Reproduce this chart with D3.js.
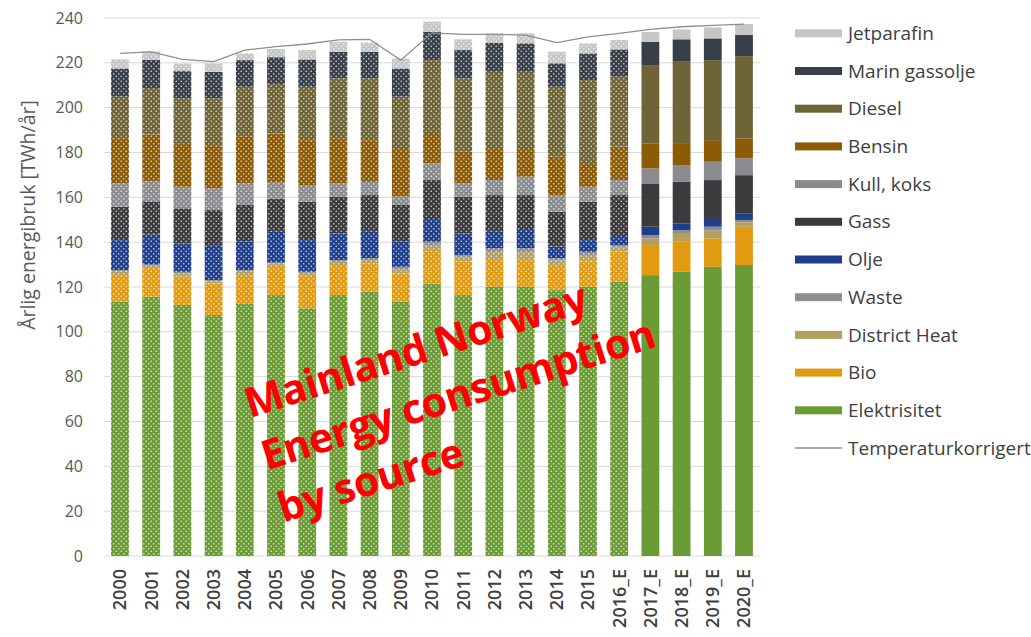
<!DOCTYPE html>
<html>
<head>
<meta charset="utf-8">
<script src="https://cdn.jsdelivr.net/npm/d3@7/dist/d3.min.js"></script>
<style>
  html, body { margin: 0; padding: 0; background: #fff; }
  svg { display: block; }
</style>
</head>
<body>
<svg id="chart" width="1031" height="637"></svg>
<script>
// Years on the category axis (estimates marked with _E)
const years = ["2000","2001","2002","2003","2004","2005","2006","2007","2008","2009",
  "2010","2011","2012","2013","2014","2015","2016_E","2017_E","2018_E","2019_E","2020_E"];

// Annual energy use per source, TWh/år
const elektrisitet = [113.4,115.7,112.0,107.5,112.7,116.4,110.5,116.4,117.9,113.4,121.6,116.4,120.1,120.1,118.6,120.1,122.3,125.3,126.8,129.0,129.8];
const bio          = [11.9,12.8,12.6,14.1,12.6,13.0,14.8,13.4,12.7,12.7,14.1,14.9,11.9,11.9,11.2,11.2,13.4,13.4,13.4,12.7,17.1];
const districtHeat = [1.5,1.0,1.4,1.0,1.5,1.0,1.0,1.4,1.4,1.9,3.0,2.0,3.5,3.5,2.0,3.0,2.0,3.0,3.5,3.5,2.0];
const waste        = [0.8,0.5,0.8,0.5,0.8,0.5,0.5,0.8,0.8,1.0,1.5,1.0,1.7,1.7,1.0,1.4,1.0,1.5,1.7,1.7,1.0];
const olje         = [13.3,13.4,12.7,15.6,12.6,13.7,14.1,11.9,11.8,11.2,9.7,9.6,7.4,8.2,5.2,5.2,4.5,3.7,3.0,3.0,3.0];
const gass         = [14.9,14.8,15.6,15.6,16.4,14.9,17.1,16.4,16.4,16.4,17.8,16.4,16.4,15.6,15.6,17.1,17.8,19.3,18.5,17.8,17.0];
const kullKoks     = [10.4,8.9,9.6,9.7,9.6,7.1,7.5,5.9,5.9,3.7,7.5,5.9,6.7,8.2,7.4,6.7,6.7,6.7,7.5,8.2,7.5];
const bensin       = [20.2,20.9,19.5,19.3,21.1,21.9,20.0,20.2,18.6,20.8,13.5,14.1,13.4,11.9,17.1,10.6,14.9,11.2,9.8,9.6,8.9];
const diesel       = [18.5,20.8,19.9,20.8,22.0,22.1,23.8,26.7,27.6,23.8,32.5,32.8,34.9,34.9,31.2,37.0,31.2,34.9,36.3,35.7,36.7];
const marinGassolje= [12.6,12.6,12.2,11.9,11.9,11.9,12.2,11.8,11.8,12.6,12.7,12.6,13.0,12.7,10.5,11.9,12.2,10.4,10.0,9.7,9.4];
const jetparafin   = [4.0,3.7,3.4,3.8,3.0,3.7,4.2,4.5,4.1,4.4,4.5,4.8,4.2,4.5,5.2,4.5,4.2,4.4,4.4,4.9,4.9];

// Temperature-corrected total
const temperaturkorrigert = [224.2,224.9,221.5,220.5,225.7,227.2,228.4,230.2,230.5,221.2,233.4,232.7,232.7,232.4,229.0,231.6,233.1,234.9,236.1,236.7,237.3];

// Axis ticks
const yTicks = [0,20,40,60,80,100,120,140,160,180,200,220,240];

// Series in stacking order, bottom to top
const series = [
  { key: "Elektrisitet",   values: elektrisitet,  color: "#6b9b35" },
  { key: "Bio",            values: bio,           color: "#e29a10" },
  { key: "District Heat",  values: districtHeat,  color: "#b3a05e" },
  { key: "Waste",          values: waste,         color: "#8e8e8e" },
  { key: "Olje",           values: olje,          color: "#1f3f8c" },
  { key: "Gass",           values: gass,          color: "#3b3b3d" },
  { key: "Kull, koks",     values: kullKoks,      color: "#8a8b8f" },
  { key: "Bensin",         values: bensin,        color: "#8c5b06" },
  { key: "Diesel",         values: diesel,        color: "#6e6436" },
  { key: "Marin gassolje", values: marinGassolje, color: "#383f48" },
  { key: "Jetparafin",     values: jetparafin,    color: "#c6c6c6" }
];

const firstEstimateSolid = 17; // 2017_E onwards drawn with solid fill

const svg = d3.select("#chart");

// Dotted fills for the historical bars
const defs = svg.append("defs");
series.forEach((s, i) => {
  const p = defs.append("pattern")
    .attr("id", "dots" + i)
    .attr("patternUnits", "userSpaceOnUse")
    .attr("width", 5).attr("height", 5);
  p.append("rect").attr("width", 5).attr("height", 5).attr("fill", s.color);
  p.append("circle").attr("cx", 1.25).attr("cy", 1.25).attr("r", 0.85).attr("fill", "#ffffff").attr("fill-opacity", 0.7);
  p.append("circle").attr("cx", 3.75).attr("cy", 3.75).attr("r", 0.85).attr("fill", "#ffffff").attr("fill-opacity", 0.7);
});

const x = d3.scaleBand()
  .domain(years)
  .range([104.4, 759.6])
  .paddingInner(0.43)
  .paddingOuter(0.215);

const y = d3.scaleLinear().domain([0, 240]).range([556, 18]);

// Gridlines
svg.append("g")
  .selectAll("line")
  .data(yTicks)
  .join("line")
  .attr("x1", 104).attr("x2", 760)
  .attr("y1", d => y(d)).attr("y2", d => y(d))
  .attr("stroke", "#d9d9d9").attr("stroke-width", 1);

// Y axis labels
const yAxis = d3.axisLeft(y).tickValues(yTicks).tickSize(0).tickPadding(0);
svg.append("g")
  .attr("transform", "translate(83,0)")
  .call(yAxis)
  .call(g => g.select(".domain").remove())
  .call(g => g.selectAll("text")
    .attr("font-family", "'Open Sans', sans-serif")
    .attr("font-size", 16)
    .attr("fill", "#595959"));

// Y axis title
svg.append("text")
  .attr("transform", "translate(28,215) rotate(-90)")
  .attr("text-anchor", "middle")
  .attr("dy", "0.35em")
  .attr("font-family", "'Open Sans', sans-serif")
  .attr("font-size", 19.5)
  .attr("fill", "#595959")
  .text("Årlig energibruk [TWh/år]");

// Stacked bars
const rows = years.map((yr, i) => {
  const r = { year: yr, idx: i };
  series.forEach(s => { r[s.key] = s.values[i]; });
  return r;
});
const stack = d3.stack().keys(series.map(s => s.key));
const layers = stack(rows);

svg.append("g")
  .selectAll("g")
  .data(layers)
  .join("g")
  .each(function(layer, li) {
    d3.select(this).selectAll("rect")
      .data(layer)
      .join("rect")
      .attr("x", d => x(d.data.year))
      .attr("width", x.bandwidth())
      .attr("y", d => y(d[1]))
      .attr("height", d => y(d[0]) - y(d[1]))
      .attr("fill", d => d.data.idx >= firstEstimateSolid ? series[li].color : `url(#dots${li})`);
  });

// X axis labels
const xAxis = d3.axisBottom(x).tickSize(0).tickPadding(0);
svg.append("g")
  .attr("transform", "translate(0,556)")
  .call(xAxis)
  .call(g => g.select(".domain").remove())
  .call(g => g.selectAll("text")
    .attr("transform", "translate(0,13) rotate(-90)")
    .attr("text-anchor", "end")
    .attr("x", 0).attr("y", 0)
    .attr("dy", "0.35em")
    .attr("font-family", "'Open Sans', sans-serif")
    .attr("font-size", 18)
    .attr("font-weight", 600)
    .attr("fill", "#404040"));

// Temperature-corrected line
const line = d3.line()
  .x((d, i) => x(years[i]) + x.bandwidth() / 2)
  .y(d => y(d));
svg.append("path")
  .datum(temperaturkorrigert)
  .attr("d", line)
  .attr("fill", "none")
  .attr("stroke", "#8f8f8f")
  .attr("stroke-width", 1.3);

// Legend, top entry first
const legendItems = series.slice().reverse().map(s => ({ key: s.key, color: s.color, type: "bar" }))
  .concat([{ key: "Temperaturkorrigert", color: "#8f8f8f", type: "line" }]);
const legend = svg.append("g");
legendItems.forEach((d, i) => {
  const cy = 33.3 + i * 37.7;
  if (d.type === "bar") {
    legend.append("rect")
      .attr("x", 795).attr("y", cy - 4).attr("width", 47).attr("height", 8)
      .attr("fill", d.color);
  } else {
    legend.append("line")
      .attr("x1", 795).attr("x2", 842).attr("y1", cy).attr("y2", cy)
      .attr("stroke", d.color).attr("stroke-width", 1.3);
  }
  legend.append("text")
    .attr("x", 848).attr("y", cy)
    .attr("dy", "0.35em")
    .attr("font-family", "'Open Sans', sans-serif")
    .attr("font-size", 19)
    .attr("fill", "#404040")
    .text(d.key);
});

// Red overlay caption
const caption = svg.append("g")
  .attr("transform", "translate(250,418) rotate(-17.6)");
["Mainland Norway", "Energy consumption", "by source"].forEach((t, i) => {
  caption.append("text")
    .attr("x", 0).attr("y", i * 55)
    .attr("font-family", "'Open Sans', sans-serif")
    .attr("font-weight", 700)
    .attr("font-size", 41)
    .attr("letter-spacing", -0.5)
    .attr("fill", "#ff0000")
    .text(t);
});
</script>
</body>
</html>
